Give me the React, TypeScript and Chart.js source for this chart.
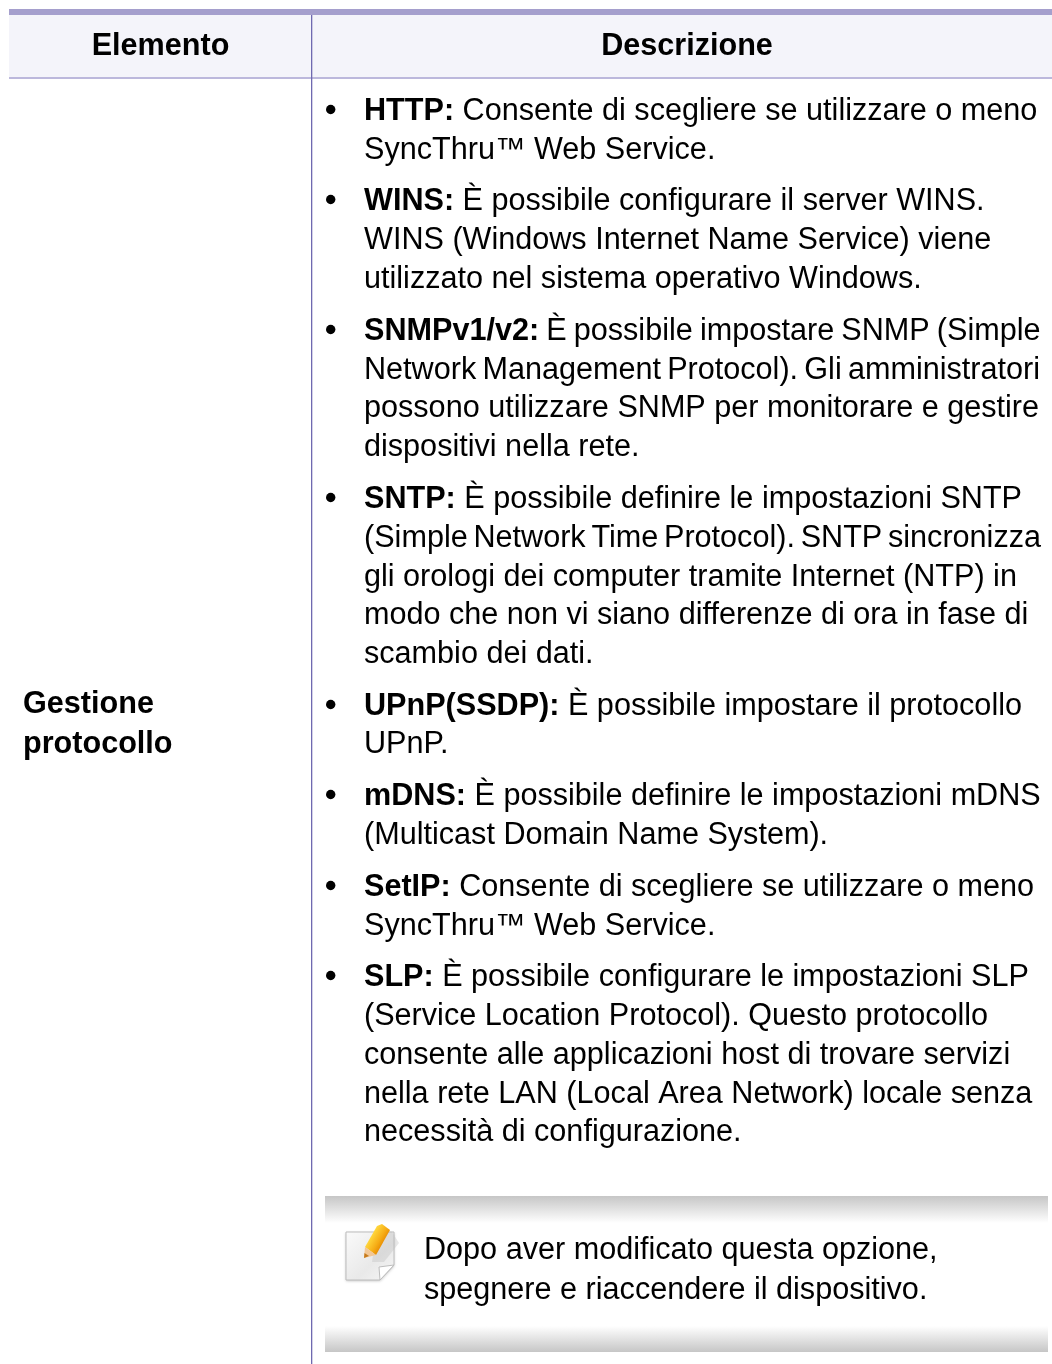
import React, { useEffect, useRef } from "react";
import { Chart, registerables } from "chart.js";

Chart.register(...registerables);

const headers = ["Elemento", "Descrizione"];
const rowLabel = ["Gestione", "protocollo"];
const rowLabelY = [712, 752];

type Line = { bullet?: boolean; bold?: string; text: string; y: number; right?: number };

const descriptionLines: Line[] = [
  { bullet: true, bold: "HTTP:", text: " Consente di scegliere se utilizzare o meno", y: 119 },
  { text: "SyncThru™ Web Service.", y: 158 },
  { bullet: true, bold: "WINS:", text: " È possibile configurare il server WINS.", y: 209 },
  { text: "WINS (Windows Internet Name Service) viene", y: 248 },
  { text: "utilizzato nel sistema operativo Windows.", y: 287 },
  { bullet: true, bold: "SNMPv1/v2:", text: " È possibile impostare SNMP (Simple", y: 339, right: 1040.5 },
  { text: "Network Management Protocol). Gli amministratori", y: 378, right: 1040 },
  { text: "possono utilizzare SNMP per monitorare e gestire", y: 416 },
  { text: "dispositivi nella rete.", y: 455 },
  { bullet: true, bold: "SNTP:", text: " È possibile definire le impostazioni SNTP", y: 507 },
  { text: "(Simple Network Time Protocol). SNTP sincronizza", y: 546, right: 1041 },
  { text: "gli orologi dei computer tramite Internet (NTP) in", y: 585 },
  { text: "modo che non vi siano differenze di ora in fase di", y: 623 },
  { text: "scambio dei dati.", y: 662 },
  { bullet: true, bold: "UPnP(SSDP):", text: " È possibile impostare il protocollo", y: 714 },
  { text: "UPnP.", y: 752 },
  { bullet: true, bold: "mDNS:", text: " È possibile definire le impostazioni mDNS", y: 804 },
  { text: "(Multicast Domain Name System).", y: 843 },
  { bullet: true, bold: "SetIP:", text: " Consente di scegliere se utilizzare o meno", y: 895 },
  { text: "SyncThru™ Web Service.", y: 934 },
  { bullet: true, bold: "SLP:", text: " È possibile configurare le impostazioni SLP", y: 985 },
  { text: "(Service Location Protocol). Questo protocollo", y: 1024 },
  { text: "consente alle applicazioni host di trovare servizi", y: 1063 },
  { text: "nella rete LAN (Local Area Network) locale senza", y: 1102 },
  { text: "necessità di configurazione.", y: 1140 },
];

const noteLines = ["Dopo aver modificato questa opzione,", "spegnere e riaccendere il dispositivo."];
const noteY = [1258, 1298];

const FONT = '"Liberation Sans", Arial, sans-serif';
const SIZE = 30.6;
const NUDGE = 0.5;

const tablePlugin = {
  id: "tablePlugin",
  beforeDraw(chart: any) {
    const c: CanvasRenderingContext2D = chart.ctx;
    const X = (v: number) => chart.scales.x.getPixelForValue(v);
    const Y = (v: number) => chart.scales.y.getPixelForValue(v);
    const rect = (x0: number, y0: number, x1: number, y1: number, fill: any) => {
      c.fillStyle = fill;
      c.fillRect(X(x0), Y(y0), X(x1) - X(x0), Y(y1) - Y(y0));
    };
    const poly = (pts: number[][], fill: any) => {
      c.beginPath();
      pts.forEach(([px, py], i) => (i ? c.lineTo(X(px), Y(py)) : c.moveTo(X(px), Y(py))));
      c.closePath();
      c.fillStyle = fill;
      c.fill();
    };
    c.save();
    rect(0, 0, 1052, 1364, "#ffffff");
    rect(9, 15, 1052, 77, "#f4f4fa");
    rect(9, 9, 1052, 15, "#a59fcd");
    rect(9, 77, 1052, 79, "#bcb8dc");
    rect(311, 15, 312.3, 1364, "#6f69b0");

    // note box
    const top = c.createLinearGradient(0, Y(1196), 0, Y(1223));
    top.addColorStop(0, "#c6c6c6");
    top.addColorStop(1, "#ffffff");
    rect(325, 1196, 1048, 1223, top);
    const bottom = c.createLinearGradient(0, Y(1326), 0, Y(1352));
    bottom.addColorStop(0, "#ffffff");
    bottom.addColorStop(1, "#c6c6c6");
    rect(325, 1326, 1048, 1352, bottom);

    // note icon
    c.save();
    c.shadowColor = "rgba(0,0,0,0.25)";
    c.shadowBlur = 3;
    c.shadowOffsetY = 1;
    const paper = c.createLinearGradient(X(346), Y(1232), X(394), Y(1280));
    paper.addColorStop(0, "#fafafa");
    paper.addColorStop(0.6, "#e9e9e9");
    paper.addColorStop(1, "#f6f6f6");
    poly([[346, 1232], [394, 1232], [394, 1265], [380, 1280], [346, 1280]], paper);
    c.restore();
    c.strokeStyle = "#bdbdbd";
    c.lineWidth = 1;
    c.stroke();
    poly([[377, 1228], [392, 1232], [399, 1243], [384, 1262], [372, 1262]], "rgba(190,190,190,0.35)");
    poly([[394, 1265], [379, 1267], [380, 1280]], "#ffffff");
    c.stroke();
    const pencil = c.createLinearGradient(X(371), Y(1236), X(384), Y(1244));
    pencil.addColorStop(0, "#ffd83e");
    pencil.addColorStop(0.6, "#f6ad16");
    pencil.addColorStop(1, "#e58800");
    poly([[365, 1247], [377, 1226], [382, 1224], [390, 1230], [376, 1255]], pencil);
    poly([[364, 1258], [365, 1247], [376, 1255]], "#f2c795");
    poly([[364, 1258], [364.5, 1253], [369, 1256]], "#c67a1c");

    // text
    c.textBaseline = "alphabetic";
    c.fillStyle = "#000000";
    c.textAlign = "center";
    c.font = `bold ${SIZE}px ${FONT}`;
    c.fillText(headers[0], X(160.5), Y(54.5));
    c.fillText(headers[1], X(687), Y(54.5));
    c.textAlign = "left";
    rowLabel.forEach((t, i) => c.fillText(t, X(23), Y(rowLabelY[i] + NUDGE)));

    descriptionLines.forEach((l) => {
      let x = 364;
      if (l.bullet) {
        c.beginPath();
        c.arc(X(330.7), Y(l.y - 9.5), 4.7, 0, Math.PI * 2);
        c.fill();
      }
      if (l.bold) {
        c.font = `bold ${SIZE}px ${FONT}`;
        c.fillText(l.bold, X(x), Y(l.y + NUDGE));
        x += c.measureText(l.bold).width;
      }
      c.font = `${SIZE}px ${FONT}`;
      if (l.right) {
        // justified line: fit the word gaps so the line ends where the reference does
        const words = l.text.split(" ");
        const natural = c.measureText(l.text).width;
        const space = c.measureText(" ").width + (l.right - x - natural) / (words.length - 1);
        let cx = x;
        words.forEach((w) => {
          if (w) c.fillText(w, X(cx), Y(l.y + NUDGE));
          cx += c.measureText(w).width + space;
        });
      } else {
        c.fillText(l.text, X(x), Y(l.y + NUDGE));
      }
    });

    c.font = `${SIZE}px ${FONT}`;
    noteLines.forEach((t, i) => c.fillText(t, X(424), Y(noteY[i] + NUDGE)));
    c.restore();
  },
};

export default function App() {
  const ref = useRef<HTMLCanvasElement>(null);
  useEffect(() => {
    document.body.style.margin = "0";
    const chart = new Chart(ref.current!, {
      type: "scatter",
      data: { datasets: [{ data: [] }] },
      options: {
        animation: false,
        responsive: false,
        layout: { padding: 0 },
        plugins: { legend: { display: false }, tooltip: { enabled: false }, title: { display: false } },
        scales: {
          x: { type: "linear", min: 0, max: 1052, display: false },
          y: { type: "linear", min: 0, max: 1364, reverse: true, display: false },
        },
      },
      plugins: [tablePlugin],
    } as any);
    return () => chart.destroy();
  }, []);
  return (
    <div style={{ position: "absolute", left: 0, top: 0, width: 1052, height: 1364, overflow: "hidden" }}>
      <canvas ref={ref} width={1052} height={1364} style={{ display: "block" }} />
    </div>
  );
}
